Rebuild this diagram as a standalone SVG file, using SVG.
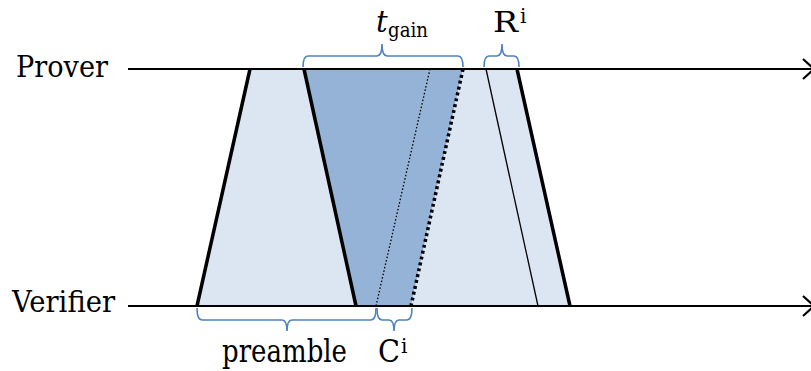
<svg xmlns="http://www.w3.org/2000/svg" width="811" height="371" viewBox="0 0 811 371">
<style>
text{font-family:'DejaVu Serif','Liberation Serif',serif;fill:#000}
.tl{stroke:#000;stroke-width:2.2;fill:none}
.thick{stroke:#000;stroke-width:3.5;fill:none}
.thin{stroke:#000;stroke-width:1.3;fill:none}
.dotthin{stroke:#000;stroke-width:1.3;stroke-dasharray:1.5,2;fill:none}
.dotthick{stroke:#000;stroke-width:3.5;stroke-dasharray:3,3;fill:none}
.brace{stroke:#4f81bd;stroke-width:1.6;fill:none}
.light{fill:#dce6f2}
.dark{fill:#95b3d7}
</style>
<rect width="811" height="371" fill="#fff"/>
<g id="fills">
<polygon class="light" points="250,69 304,69 356,306 197,306"/>
<polygon class="dark" points="304,69 463,69 411,306 356,306"/>
<polygon class="light" points="463,69 517,69 570,306 411,306"/>
</g>
<g id="timelines">
<g id="prover">
<line class="tl" x1="128" y1="69" x2="813" y2="69"/>
<polyline class="tl" points="803,59 814,69 803,79"/>
<text x="16" y="77" font-size="30" textLength="92" lengthAdjust="spacingAndGlyphs">Prover</text>
</g>
<g id="verifier">
<line class="tl" x1="128" y1="306" x2="813" y2="306"/>
<polyline class="tl" points="803,296 814,306 803,316"/>
<text x="12" y="312" font-size="30" textLength="103" lengthAdjust="spacingAndGlyphs">Verifier</text>
</g>
</g>
<g id="connectors">
<line class="thick" x1="197" y1="306" x2="250" y2="69"/>
<line class="thick" x1="304" y1="69" x2="356" y2="306"/>
<line class="dotthin" x1="430" y1="69" x2="376" y2="306"/>
<line class="dotthick" x1="463" y1="69" x2="411" y2="306"/>
<line class="thin" x1="486" y1="69" x2="538" y2="306"/>
<line class="thick" x1="517" y1="69" x2="570" y2="306"/>
</g>
<g id="tgain">
<path class="brace" d="M303,67 Q303,56 308,56 L377,56 Q382,56 382,44 Q382,56 387,56 L458,56 Q463,56 463,67"/>
<text x="376" y="32" font-size="29" font-style="italic">t</text>
<text x="388" y="37" font-size="21" textLength="40" lengthAdjust="spacingAndGlyphs">gain</text>
</g>
<g id="Ri">
<path class="brace" d="M484,67 Q484,56 489,56 L497,56 Q502,56 502,44 Q502,56 507,56 L514,56 Q519,56 519,67"/>
<text x="493" y="32" font-size="28" textLength="25" lengthAdjust="spacingAndGlyphs">R</text>
<text x="520" y="23" font-size="20">i</text>
</g>
<g id="preamble">
<path class="brace" d="M197,308 Q197,320 202,320 L282,320 Q287,320 287,331 Q287,320 292,320 L371,320 Q376,320 376,308"/>
<text x="222" y="362" font-size="32" textLength="125" lengthAdjust="spacingAndGlyphs">preamble</text>
</g>
<g id="Ci">
<path class="brace" d="M377,308 Q377,320 382,320 L389,320 Q394,320 394,331 Q394,320 399,320 L407,320 Q412,320 412,308"/>
<text x="378" y="362" font-size="32" textLength="22" lengthAdjust="spacingAndGlyphs">C</text>
<text x="401" y="353" font-size="20">i</text>
</g>
</svg>
